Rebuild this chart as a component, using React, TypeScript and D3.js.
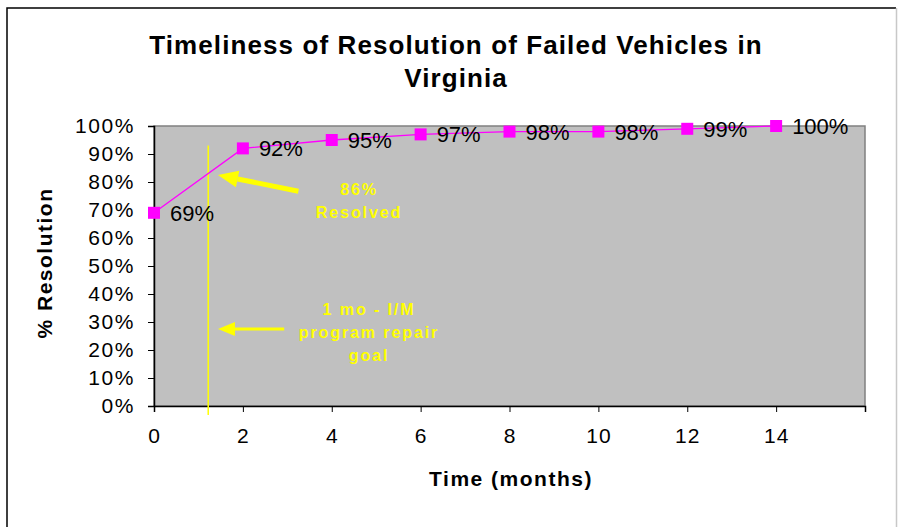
import React, { useEffect, useRef } from "react";
import * as d3 from "d3";

const months = [0, 2, 4, 6, 8, 10, 12, 14];
const resolved = [69, 92, 95, 97, 98, 98, 99, 100];
const xTicks = [0, 2, 4, 6, 8, 10, 12, 14, 16];
const xTickLabels = ["0", "2", "4", "6", "8", "10", "12", "14", ""];
const yTicks = [0, 10, 20, 30, 40, 50, 60, 70, 80, 90, 100];
const goalMonth = 1.22;

const W = 898;
const H = 527;
const margin = { left: 154, right: 33, top: 126, bottom: 121 };

export default function App() {
	const svgRef = useRef<SVGSVGElement>(null);

	useEffect(() => {
		const svg = d3.select(svgRef.current);
		svg.selectAll("*").remove();

		const font = "Arial, 'Liberation Sans', sans-serif";
		const x = d3.scaleLinear().domain([0, 16]).range([margin.left, W - margin.right]);
		const y = d3.scaleLinear().domain([0, 100]).range([H - margin.bottom, margin.top]);

		// 바깥 테두리
		svg.append("rect").attr("width", W).attr("height", H).attr("fill", "white");
		svg
			.append("path")
			.attr("d", "M7,540V8H896")
			.attr("fill", "none")
			.attr("stroke", "black")
			.attr("stroke-width", 1.5);
		svg
			.append("line")
			.attr("x1", 896.5)
			.attr("x2", 896.5)
			.attr("y1", 8)
			.attr("y2", H)
			.attr("stroke", "#c8c8c8")
			.attr("stroke-width", 1.5);

		// 플롯 영역
		svg
			.append("rect")
			.attr("x", x(0))
			.attr("y", y(100))
			.attr("width", x(16) - x(0))
			.attr("height", y(0) - y(100))
			.attr("fill", "#C0C0C0")
			.attr("stroke", "#808080")
			.attr("stroke-width", 1.5);

		// 축
		const yAxis = svg
			.append("g")
			.attr("transform", `translate(${x(0)},0)`)
			.call(
				d3
					.axisLeft(y)
					.tickValues(yTicks)
					.tickSize(6)
					.tickFormat((d) => `${d}%`),
			);
		yAxis.select(".domain").attr("stroke", "black").attr("stroke-width", 1.5);
		yAxis
			.selectAll("text")
			.attr("font-family", font)
			.attr("font-size", 21)
			.attr("letter-spacing", 1.6)
			.attr("fill", "black")
			.attr("x", -19);

		const xAxis = svg
			.append("g")
			.attr("transform", `translate(0,${y(0)})`)
			.call(
				d3
					.axisBottom(x)
					.tickValues(xTicks)
					.tickSize(6)
					.tickFormat((d, i) => xTickLabels[i]),
			);
		xAxis.select(".domain").attr("stroke", "black").attr("stroke-width", 1.5);
		xAxis
			.selectAll("text")
			.attr("font-family", font)
			.attr("font-size", 21)
			.attr("letter-spacing", 1)
			.attr("fill", "black")
			.attr("y", 22);

		// 목표 선
		svg
			.append("line")
			.attr("x1", x(goalMonth))
			.attr("x2", x(goalMonth))
			.attr("y1", y(93))
			.attr("y2", y(0) + 9)
			.attr("stroke", "#FFFF00")
			.attr("stroke-width", 1.5);

		// 데이터 선
		const pts = months.map((m, i) => [m, resolved[i]] as [number, number]);
		svg
			.append("path")
			.datum(pts)
			.attr("fill", "none")
			.attr("stroke", "#FF00FF")
			.attr("stroke-width", 1.3)
			.attr(
				"d",
				d3
					.line<[number, number]>()
					.x((d) => x(d[0]))
					.y((d) => y(d[1])),
			);

		svg
			.selectAll(".marker")
			.data(pts)
			.join("rect")
			.attr("class", "marker")
			.attr("x", (d) => x(d[0]) - 6)
			.attr("y", (d) => y(d[1]) - 6)
			.attr("width", 12)
			.attr("height", 12)
			.attr("fill", "#FF00FF");

		svg
			.selectAll(".label")
			.data(pts)
			.join("text")
			.attr("class", "label")
			.attr("x", (d) => x(d[0]) + 16)
			.attr("y", (d) => y(d[1]) + 8)
			.attr("font-family", font)
			.attr("font-size", 22)
			.attr("fill", "black")
			.text((d) => `${d[1]}%`);

		// 주석 화살표
		const arrow = (x1: number, y1: number, x2: number, y2: number, w: number, head: number, hw: number) => {
			const ang = Math.atan2(y2 - y1, x2 - x1);
			const bx = x2 - head * Math.cos(ang);
			const by = y2 - head * Math.sin(ang);
			const px = -Math.sin(ang);
			const py = Math.cos(ang);
			svg
				.append("line")
				.attr("x1", x1)
				.attr("y1", y1)
				.attr("x2", bx)
				.attr("y2", by)
				.attr("stroke", "#FFFF00")
				.attr("stroke-width", w);
			svg
				.append("path")
				.attr(
					"d",
					`M${x2},${y2}L${bx + px * hw},${by + py * hw}L${bx - px * hw},${by - py * hw}Z`,
				)
				.attr("fill", "#FFFF00");
		};
		arrow(x(3.25), y(76.7), x(1.44), y(82.5), 5, 20, 8.5);
		arrow(x(2.93), y(27.5), x(1.44), y(27.5), 3, 17, 7);

		const note = (lines: string[], cx: number, cy: number) => {
			svg
				.append("text")
				.attr("x", cx)
				.attr("y", cy)
				.attr("text-anchor", "middle")
				.attr("font-family", font)
				.attr("font-size", 16)
				.attr("font-weight", "bold")
				.attr("letter-spacing", 1.9)
				.attr("fill", "#FFFF00")
				.selectAll("tspan")
				.data(lines)
				.join("tspan")
				.attr("x", cx)
				.attr("dy", (d, i) => (i === 0 ? 0 : 23))
				.text((d) => d);
		};
		note(["86%", "Resolved"], 359, 195);
		note(["1 mo - I/M", "program repair", "goal"], 369, 315);

		// 제목과 축 제목
		svg
			.append("text")
			.attr("text-anchor", "middle")
			.attr("font-family", font)
			.attr("font-size", 26)
			.attr("font-weight", "bold")
			.attr("letter-spacing", 1.1)
			.selectAll("tspan")
			.data(["Timeliness of Resolution of Failed Vehicles in", "Virginia"])
			.join("tspan")
			.attr("x", 456)
			.attr("y", (d, i) => 54 + i * 33)
			.text((d) => d);

		svg
			.append("text")
			.attr("x", 511)
			.attr("y", 486)
			.attr("text-anchor", "middle")
			.attr("font-family", font)
			.attr("font-size", 21)
			.attr("font-weight", "bold")
			.attr("letter-spacing", 1.5)
			.text("Time (months)");

		svg
			.append("text")
			.attr("transform", "translate(52,263) rotate(-90)")
			.attr("text-anchor", "middle")
			.attr("font-family", font)
			.attr("font-size", 21)
			.attr("font-weight", "bold")
			.attr("letter-spacing", 1.5)
			.text("% Resolution");
	}, []);

	return (
		<svg
			ref={svgRef}
			width={W}
			height={H}
			style={{ position: "absolute", left: 0, top: 0, display: "block" }}
		></svg>
	);
}
